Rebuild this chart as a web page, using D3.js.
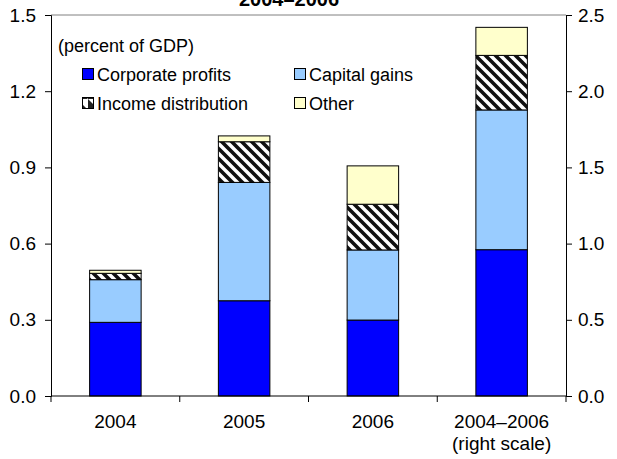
<!DOCTYPE html>
<html><head><meta charset="utf-8">
<script src="https://cdn.jsdelivr.net/npm/d3@7"></script>
<style>
html,body{margin:0;padding:0;background:#fff;}
svg{display:block;font-family:Arial,"Liberation Sans",sans-serif;}
</style></head>
<body>
<svg id="chart" width="617" height="459"></svg>
<script>
const categories = ["2004", "2005", "2006", "2004\u20132006"];
const categoryLines = [["2004"], ["2005"], ["2006"], ["2004\u20132006", "(right scale)"]];
const seriesNames = ["Corporate profits", "Capital gains", "Income distribution", "Other"];
const corporateProfits = [0.29, 0.375, 0.299, 0.96];
const capitalGains = [0.168, 0.466, 0.276, 0.917];
const incomeDistribution = [0.025, 0.16, 0.18, 0.358];
const other = [0.012, 0.023, 0.151, 0.184];
const leftTicks = [0.0, 0.3, 0.6, 0.9, 1.2, 1.5];
const rightTicks = [0.0, 0.5, 1.0, 1.5, 2.0, 2.5];
const rightScaleCategory = "2004\u20132006";
const titleText = "2004\u20132006";
const unitNote = "(percent of GDP)";
const colors = ["#0000FF", "#99CCFF", "url(#hatch)", "#FFFFCC"];

const svg = d3.select("#chart");
const m = {left: 51, right: 566, top: 15, bottom: 396};

const defs = svg.append("defs");
const pat = defs.append("pattern").attr("id", "hatch").attr("patternUnits", "userSpaceOnUse")
  .attr("width", 10).attr("height", 10);
pat.append("rect").attr("width", 10).attr("height", 10).attr("fill", "#fff");
pat.append("path").attr("d", "M-5,-5 L15,15 M-5,5 L5,15 M5,-5 L15,5")
  .attr("stroke", "#111").attr("stroke-width", 3.6);

const legendPat = defs.append("pattern").attr("id", "hatchLegend").attr("patternUnits", "userSpaceOnUse")
  .attr("width", 11).attr("height", 11);
legendPat.append("rect").attr("width", 11).attr("height", 11).attr("fill", "#fff");
legendPat.append("path").attr("d", "M0,0 L11,11 L0,11 Z").attr("fill", "#222");

const x = d3.scaleBand().domain(categories).range([m.left, m.right]).paddingInner(0.6).paddingOuter(0.3);
const xb = d3.scaleBand().domain(categories).range([m.left, m.right]);
const yL = d3.scaleLinear().domain([0, 1.5]).range([m.bottom, m.top]);
const yR = d3.scaleLinear().domain([0, 2.5]).range([m.bottom, m.top]);

const seriesArr = [corporateProfits, capitalGains, incomeDistribution, other];
const rows = categories.map((c, i) => {
  const r = {cat: c};
  seriesNames.forEach((s, j) => r[s] = seriesArr[j][i]);
  return r;
});
const stacked = d3.stack().keys(seriesNames)(rows);

// top border
svg.append("line").attr("x1", m.left).attr("x2", m.right).attr("y1", m.top).attr("y2", m.top)
  .attr("stroke", "#808080").attr("stroke-width", 1);

// bars
stacked.forEach((layer, j) => {
  svg.append("g").selectAll("rect").data(layer).join("rect")
    .attr("x", d => x(d.data.cat))
    .attr("width", x.bandwidth())
    .attr("y", d => (d.data.cat === rightScaleCategory ? yR : yL)(d[1]))
    .attr("height", d => { const s = d.data.cat === rightScaleCategory ? yR : yL; return s(d[0]) - s(d[1]); })
    .attr("fill", colors[j])
    .attr("stroke", "#000").attr("stroke-width", 1);
});

// axes
const fs = "18px";
const tfs = "19px";
const gL = svg.append("g").attr("transform", `translate(${m.left},0)`)
  .call(d3.axisLeft(yL).tickValues(leftTicks).tickFormat(d3.format(".1f")).tickSize(6).tickPadding(9));
const gR = svg.append("g").attr("transform", `translate(${m.right},0)`)
  .call(d3.axisRight(yR).tickValues(rightTicks).tickFormat(d3.format(".1f")).tickSize(6).tickPadding(6));
const gB = svg.append("g").attr("transform", `translate(0,${m.bottom})`)
  .call(d3.axisBottom(xb).tickSize(0).tickFormat(""));
[gL, gR, gB].forEach(g => {
  g.select(".domain").attr("stroke", "#000");
  g.selectAll(".tick line").attr("stroke", "#000");
  g.selectAll("text").attr("font-size", tfs).attr("fill", "#000").attr("font-family", "Arial, 'Liberation Sans', sans-serif");
});
gB.select(".domain").attr("d", `M${m.left},0H${m.right}`);
const bounds = categories.map(c => xb(c)).concat([m.right]);
gB.append("g").selectAll("line").data(bounds).join("line")
  .attr("x1", d => d).attr("x2", d => d).attr("y1", 0).attr("y2", 6).attr("stroke", "#000");

// category labels
const lbl = svg.append("g").attr("font-size", tfs).attr("text-anchor", "middle");
categories.forEach((c, i) => {
  const cx = xb(c) + xb.bandwidth() / 2;
  const t = lbl.append("text").attr("x", cx).attr("y", 428);
  categoryLines[i].forEach((ln, k) => t.append("tspan").attr("x", cx).attr("dy", k === 0 ? 0 : 22).text(ln));
});

// title (clipped at top, as in the reference)
svg.append("text").attr("x", 289).attr("y", 6).attr("text-anchor", "middle")
  .attr("font-size", "20px").attr("font-weight", "bold").text(titleText);

// note
svg.append("text").attr("x", 58).attr("y", 52).attr("font-size", fs).text(unitNote);

// legend
const legendPos = [[82, 81], [294, 81], [82, 110], [294, 110]];
const legendFill = ["#0000FF", "#99CCFF", "url(#hatchLegend)", "#FFFFCC"];
const lg = svg.append("g");
seriesNames.forEach((s, j) => {
  const [lx, ly] = legendPos[j];
  lg.append("rect").attr("x", lx + 0.5).attr("y", ly - 12.5).attr("width", 11).attr("height", 11)
    .attr("fill", legendFill[j]).attr("stroke", "#000").attr("stroke-width", 1);
  lg.append("text").attr("x", lx + 15).attr("y", ly).attr("font-size", fs).text(s);
});
</script>
</body></html>
